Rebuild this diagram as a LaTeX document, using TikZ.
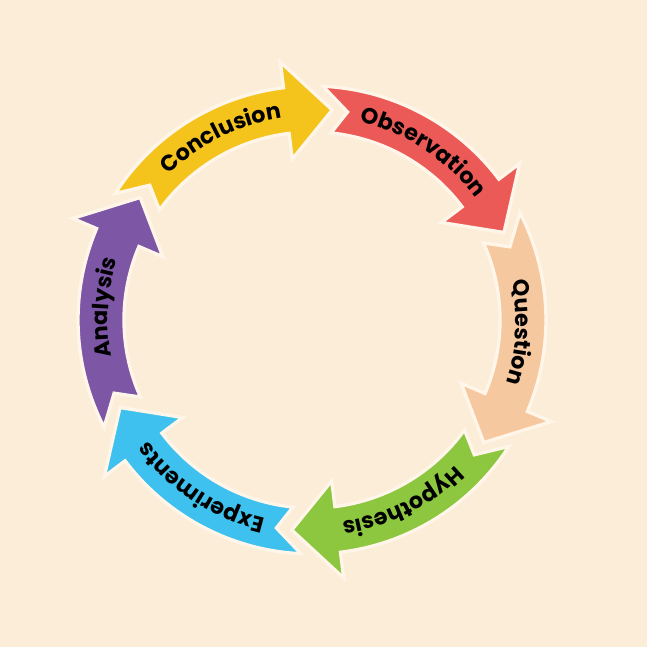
\documentclass[tikz,border=0pt]{standalone}
\usepackage{fontspec}
\setmainfont{Poppins}
\usetikzlibrary{decorations.text}
\definecolor{paper}{RGB}{251,237,215}
\definecolor{rim}{RGB}{255,246,233}
\definecolor{conccol}{RGB}{245,196,28}
\definecolor{obscol}{RGB}{235,90,87}
\definecolor{quescol}{RGB}{246,200,160}
\definecolor{hypcol}{RGB}{141,198,63}
\definecolor{expcol}{RGB}{62,193,238}
\definecolor{anacol}{RGB}{126,86,166}
\newcommand{\arclabel}{\fontsize{19}{19}\selectfont\bfseries}

\begin{document}
\begin{tikzpicture}[x=0.3mm, y=0.3mm,
    stage/.style={draw=rim, line width=1mm, line join=miter},
    textarc/.style={decorate, decoration={text along path, text align=center, text={|\arclabel|#1}}}]
                                \fill[paper] (-312, -327) rectangle (335, 320);
                                \filldraw[stage, fill=conccol]
                                (147.3:234) arc[start angle=147.3, end angle=97, radius=234]
                                -- (97:260) -- (84.5:211) -- (97:162) -- (97:188)
                                arc[start angle=97, end angle=144.2, radius=188]
                                -- (140.3:211) -- cycle;
                                \filldraw[stage, fill=obscol]
                                (87.3:234) arc[start angle=87.3, end angle=37, radius=234]
                                -- (37:260) -- (24.5:211) -- (37:162) -- (37:188)
                                arc[start angle=37, end angle=84.2, radius=188]
                                -- (80.3:211) -- cycle;
                                \filldraw[stage, fill=quescol]
                                (27.3:234) arc[start angle=27.3, end angle=-23, radius=234]
                                -- (-23:260) -- (-35.5:211) -- (-23:162) -- (-23:188)
                                arc[start angle=-23, end angle=24.2, radius=188]
                                -- (20.3:211) -- cycle;
                                \filldraw[stage, fill=hypcol]
                                (-32.7:234) arc[start angle=-32.7, end angle=-83, radius=234]
                                -- (-83:260) -- (-95.5:211) -- (-83:162) -- (-83:188)
                                arc[start angle=-83, end angle=-35.8, radius=188]
                                -- (-39.7:211) -- cycle;
                                \filldraw[stage, fill=expcol]
                                (-92.7:234) arc[start angle=-92.7, end angle=-143, radius=234]
                                -- (-143:260) -- (-155.5:211) -- (-143:162) -- (-143:188)
                                arc[start angle=-143, end angle=-95.8, radius=188]
                                -- (-99.7:211) -- cycle;
                                \filldraw[stage, fill=anacol]
                                (207.3:234) arc[start angle=207.3, end angle=157, radius=234]
                                -- (157:260) -- (144.5:211) -- (157:162) -- (157:188)
                                arc[start angle=157, end angle=204.2, radius=188]
                                -- (200.3:211) -- cycle;
                                \path[textarc=Conclusion] (142.5:204) arc[start angle=142.5, end angle=90.5, radius=204];
                                \path[textarc=Observation] (82.5:204) arc[start angle=82.5, end angle=30.5, radius=204];
                                \path[textarc=Question] (22.5:204) arc[start angle=22.5, end angle=-29.5, radius=204];
                                \path[textarc=Hypothesis] (-37.5:204) arc[start angle=-37.5, end angle=-89.5, radius=204];
                                \path[textarc=Experiments] (-97.5:204) arc[start angle=-97.5, end angle=-149.5, radius=204];
                                \path[textarc=Analysis] (202.5:204) arc[start angle=202.5, end angle=150.5, radius=204];
                            \end{tikzpicture}
\end{document}
